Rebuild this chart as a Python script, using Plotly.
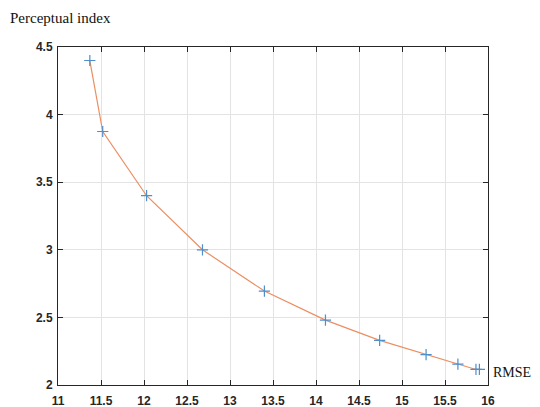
import plotly.graph_objects as go

rmse = [11.37, 11.52, 12.03, 12.68, 13.40, 14.11, 14.74, 15.28, 15.65, 15.86, 15.90]
perceptual = [4.40, 3.875, 3.40, 3.00, 2.695, 2.48, 2.33, 2.225, 2.155, 2.115, 2.115]
x_ticks = [11, 11.5, 12, 12.5, 13, 13.5, 14, 14.5, 15, 15.5, 16]
y_ticks = [2, 2.5, 3, 3.5, 4, 4.5]

W, H = 532, 399
L, R, T, B = 50, 52, 39, 22

fig = go.Figure()
fig.add_trace(go.Scatter(x=rmse, y=perceptual, mode="lines",
                         line=dict(color="#EC8E62", width=1.2), showlegend=False))
fig.add_trace(go.Scatter(x=rmse, y=perceptual, mode="markers",
                         marker=dict(symbol="cross-thin", size=8,
                                     line=dict(color="#4D8FCB", width=1.2)),
                         showlegend=False))

tickfont = dict(family="Liberation Sans", size=12, color="#262626", weight="bold")
axis_common = dict(showgrid=True, gridcolor="#E3E3E3", gridwidth=1,
                   showline=True, linecolor="#262626", linewidth=1,
                   mirror="ticks", ticks="inside", ticklen=5, tickcolor="#262626",
                   zeroline=False, tickfont=tickfont, automargin=False)

fig.update_xaxes(range=[11, 16], tickvals=x_ticks,
                 ticktext=[f"{v:g}" for v in x_ticks], ticklabelstandoff=5, **axis_common)
fig.update_yaxes(range=[2, 4.5], tickvals=y_ticks,
                 ticktext=[f"{v:g}" for v in y_ticks], ticklabelstandoff=2, **axis_common)

pw = W - L - R
ph = H - T - B
fig.update_layout(
    width=W, height=H,
    margin=dict(l=L, r=R, t=T, b=B, autoexpand=False),
    paper_bgcolor="white", plot_bgcolor="white",
    font=dict(family="Liberation Sans", size=12, color="#222222"),
    annotations=[
        dict(text="Perceptual index", xref="paper", yref="paper",
             x=(0 - L) / pw, y=(H - B - 10) / ph, xanchor="left", yanchor="middle",
             showarrow=False,
             font=dict(family="Liberation Serif", size=15, color="#111111")),
        dict(text="RMSE", xref="paper", yref="paper",
             x=(483 - L) / pw, y=(H - B - 364) / ph, xanchor="left", yanchor="middle",
             showarrow=False,
             font=dict(family="Liberation Serif", size=14, color="#111111")),
    ],
)

fig.write_html("out.html")
